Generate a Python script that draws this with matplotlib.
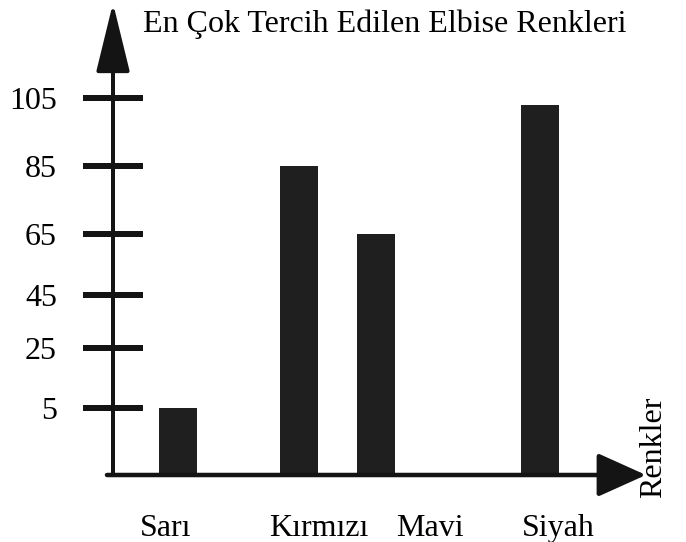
import numpy as np
import matplotlib
matplotlib.use("Agg")
import matplotlib.pyplot as plt

plt.rcParams.update({
    "font.family": ["Liberation Serif", "DejaVu Serif"],
    "font.size": 23,
})

# data
colors = ["Sarı", "Kırmızı", "Mavi", "Siyah"]
counts = [5, 85, 65, 103]
tick_vals = [5, 25, 45, 65, 85, 105]

# layout (pixel-like units along the axes)
bar_x = [65, 186, 263, 427]
label_x = [53, 206, 317, 445]
BAR_W = 38
INK = "#141414"
BAR_C = "#1f1f1f"

# the drawing's value axis is not evenly spaced: piecewise map value -> height
scale_v = np.array([0, 5, 25, 45, 65, 85, 105, 160])
scale_h = np.array([0, 67, 127, 180, 241, 309, 377, 377 + 55 * 3.4])


def fwd(v):
    return np.interp(v, scale_v, scale_h)


def inv(h):
    return np.interp(h, scale_h, scale_v)


DPI = 100
fig = plt.figure(figsize=(6.86, 5.42), dpi=DPI)
W, H = 686, 542
left, base, right, top = 113, 475, 646, 3
ax = fig.add_axes([left / W, (H - base) / H, (right - left) / W, (base - top) / H])
ax.set_yscale("function", functions=(fwd, inv))
ax.set_xlim(0, right - left)
ax.set_ylim(0, inv(base - top))

ax.bar(bar_x, counts, width=BAR_W, color=BAR_C, zorder=2)

for s in ax.spines.values():
    s.set_visible(False)

px2pt = 72 / DPI
ax.set_yticks(tick_vals, [str(v) for v in tick_vals])
ax.tick_params(axis="y", direction="inout", length=60 * px2pt, width=6 * px2pt,
               color=INK, pad=26 * px2pt)
ax.set_xticks(label_x, colors)
ax.tick_params(axis="x", length=0, pad=39 * px2pt)

# axes drawn as arrows
ax.annotate("", xy=(right - left, 0), xytext=(-6, 0),
            arrowprops=dict(arrowstyle="-|>,head_length=30,head_width=13.5",
                            mutation_scale=1, lw=4.5 * px2pt, color=INK,
                            shrinkA=0, shrinkB=0), annotation_clip=False)
ax.annotate("", xy=(0, inv(base - top)), xytext=(0, 0),
            arrowprops=dict(arrowstyle="-|>,head_length=43,head_width=10.5",
                            mutation_scale=1, lw=4 * px2pt, color=INK,
                            shrinkA=0, shrinkB=0), annotation_clip=False)

fig.text(143 / W, 1 - 24 / H, "En Çok Tercih Edilen Elbise Renkleri",
         ha="left", va="center")
fig.text(654 / W, 1 - 447 / H, "Renkler", rotation=90, ha="center", va="center")

fig.savefig("out.png", dpi=DPI)
